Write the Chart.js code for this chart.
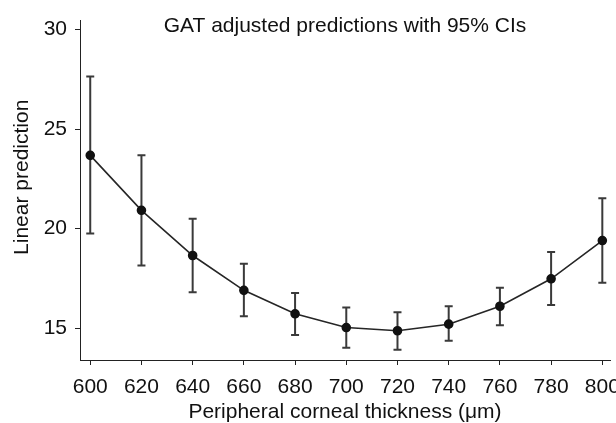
<!DOCTYPE html>
<html>
<head>
<meta charset="utf-8">
<script src="https://cdn.jsdelivr.net/npm/chart.js@4"></script>
<style>
  html, body { margin: 0; padding: 0; background: #fff; }
  #wrap { width: 616px; height: 423px; }
</style>
</head>
<body>
<div id="wrap"><canvas id="chart"></canvas></div>
<script>
'use strict';

// ── Data ──────────────────────────────────────────────────────────────────────

const thickness = [600, 620, 640, 660, 680, 700, 720, 740, 760, 780, 800];
const prediction = [23.68, 20.92, 18.65, 16.90, 15.72, 15.03, 14.87, 15.20, 16.10, 17.48, 19.40];
const ciLower = [19.75, 18.15, 16.80, 15.60, 14.65, 14.02, 13.92, 14.37, 15.15, 16.16, 17.28];
const ciUpper = [27.64, 23.68, 20.49, 18.24, 16.77, 16.04, 15.80, 16.10, 17.03, 18.82, 21.52];

const xTicks = [600, 620, 640, 660, 680, 700, 720, 740, 760, 780, 800];
const yTicks = [15, 20, 25, 30];

const FONT = 'Liberation Sans, Arial, Helvetica, sans-serif';
const yTitle = 'Linear prediction';

// ── Error bars ────────────────────────────────────────────────────────────────

const errorBars = {
  id: 'errorBars',
  beforeDatasetsDraw(chart) {
    const { ctx, scales: { x, y } } = chart;
    const cap = 4;
    ctx.save();
    ctx.strokeStyle = '#3a3a3a';
    ctx.lineWidth = 2;
    thickness.forEach((t, i) => {
      const px = x.getPixelForValue(t);
      const top = y.getPixelForValue(ciUpper[i]);
      const bot = y.getPixelForValue(ciLower[i]);
      ctx.beginPath();
      ctx.moveTo(px, top); ctx.lineTo(px, bot);
      ctx.moveTo(px - cap, top); ctx.lineTo(px + cap, top);
      ctx.moveTo(px - cap, bot); ctx.lineTo(px + cap, bot);
      ctx.stroke();
    });
    ctx.restore();
  }
};

// y title sits a bit above the centre of the axis in the original
const yAxisTitle = {
  id: 'yAxisTitle',
  afterDraw(chart) {
    const { ctx, chartArea } = chart;
    ctx.save();
    ctx.translate(22, (chartArea.top + chartArea.bottom) / 2 - 13);
    ctx.rotate(-Math.PI / 2);
    ctx.font = `21px ${FONT}`;
    ctx.fillStyle = '#111';
    ctx.textAlign = 'center';
    ctx.textBaseline = 'middle';
    ctx.fillText(yTitle, 0, 0);
    ctx.restore();
  }
};

// ── Chart ─────────────────────────────────────────────────────────────────────

new Chart(document.getElementById('chart'), {
  type: 'line',
  data: {
    datasets: [{
      data: thickness.map((t, i) => ({ x: t, y: prediction[i] })),
      borderColor: '#262626',
      borderWidth: 1.6,
      pointBackgroundColor: '#111',
      pointBorderColor: '#111',
      pointRadius: 4,
      tension: 0
    }]
  },
  options: {
    responsive: true,
    maintainAspectRatio: false,
    animation: false,
    layout: { padding: { left: 0, right: 6, top: 0, bottom: 0 } },
    plugins: {
      legend: { display: false },
      tooltip: { enabled: false },
      title: {
        display: true,
        fullSize: false,
        text: 'GAT adjusted predictions with 95% CIs',
        color: '#111',
        font: { family: FONT, size: 21, weight: 'normal' },
        padding: { top: 13, bottom: -18.2 }
      }
    },
    scales: {
      x: {
        type: 'linear',
        min: 596,
        max: 803,
        afterBuildTicks: s => { s.ticks = xTicks.map(v => ({ value: v })); },
        afterFit: s => { s.height = 63; s.paddingLeft = 0; s.paddingRight = 0; },
        grid: { drawOnChartArea: false, drawTicks: true, tickLength: 5, color: '#222' },
        border: { display: true, color: '#222', width: 1 },
        ticks: { color: '#111', font: { family: FONT, size: 21 }, padding: 10, maxRotation: 0 },
        title: {
          display: true,
          text: 'Peripheral corneal thickness (μm)',
          color: '#111',
          font: { family: FONT, size: 21 },
          padding: { top: 0, bottom: -2 }
        }
      },
      y: {
        min: 13.4,
        max: 30.45,
        afterBuildTicks: s => { s.ticks = yTicks.map(v => ({ value: v })); },
        afterFit: s => { s.width = 80; },
        grid: { drawOnChartArea: false, drawTicks: true, tickLength: 5, color: '#222' },
        border: { display: true, color: '#222', width: 1 },
        ticks: { color: '#111', font: { family: FONT, size: 21 }, padding: 8 },
        title: { display: false }
      }
    }
  },
  plugins: [errorBars, yAxisTitle]
});
</script>
</body>
</html>
